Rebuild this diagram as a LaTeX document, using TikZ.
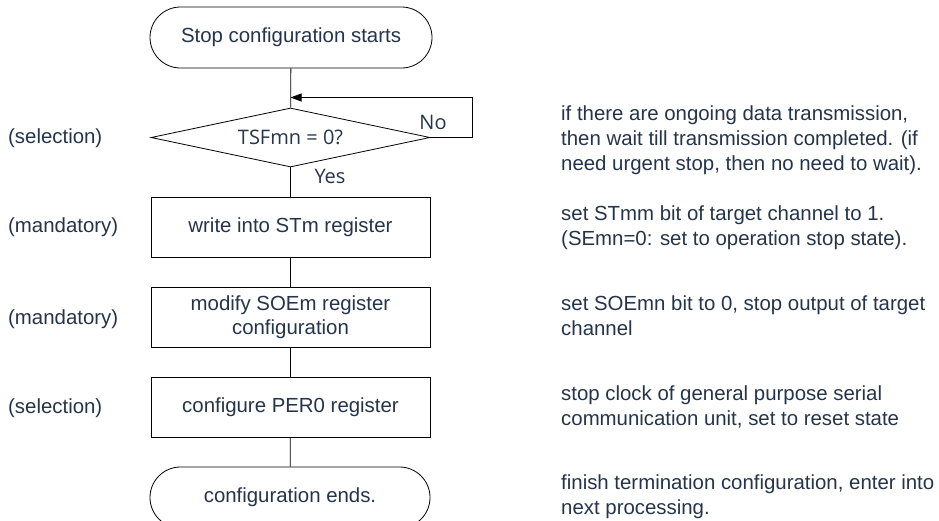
\documentclass[tikz,border=0pt]{standalone}
\usepackage{fontspec}
\setmainfont{Liberation Sans}
\newfontfamily\dfont{Open Sans}
\usetikzlibrary{shapes.geometric,shapes.misc,arrows.meta}
\definecolor{txt}{RGB}{36,52,74}
\begin{document}
\begin{tikzpicture}[x=1pt,y=-1pt,
  every node/.style={text=txt,font=\fontsize{20.4}{24}\selectfont},
  term/.style={draw=black,line width=0.8pt,rounded rectangle,minimum width=282pt,minimum height=61pt,inner sep=0pt},
  proc/.style={draw=black,line width=0.8pt,rectangle,minimum width=279pt,minimum height=60pt,inner sep=0pt,align=center},
  dec/.style={draw=black,line width=0.8pt,diamond,aspect=4.73,minimum width=279pt,minimum height=59pt,inner sep=0pt},
  side/.style={anchor=west,inner sep=0pt},
  note/.style={anchor=base west,inner sep=0pt,align=left,font=\fontsize{20.4}{25}\selectfont},
  link/.style={line width=0.8pt,draw=black}]
\useasboundingbox (0,0) rectangle (939,520);
\node[term] (start) at (291,37.5) {Stop configuration starts};
\node[dec] (tsf) at (290.5,137.5) {\dfont\fontsize{20}{24}\selectfont TSFmn = 0?};
\node[proc] (b1) at (290.5,227) {write into STm register};
\node[proc] (b2) at (290.5,317) {modify SOEm register\\configuration};
\node[proc] (b3) at (290.5,407) {configure PER0 register};
\node[term,minimum width=280pt] (fin) at (290,497.5) {configuration ends.};
\coordinate (merge) at (290.5,97.5);
\draw[link] (start) -- (tsf);
\draw[link,-{Triangle[length=11pt,width=8pt]}] (tsf.east) -- (472,137.5) |- (merge);
\draw[link] (tsf) -- (b1);
\draw[link] (b1) -- (b2);
\draw[link] (b2) -- (b3);
\draw[link] (b3) -- (fin);
\node (no) at (433,122) {\dfont\fontsize{20}{24}\selectfont No};
\node (yes) at (330,176) {\dfont\fontsize{20}{24}\selectfont Yes};
\node[side] (s1) at (8,138) {(selection)};
\node[side] (s2) at (8,227) {(mandatory)};
\node[side] (s3) at (8,319) {(mandatory)};
\node[side] (s4) at (8,408) {(selection)};
\node[note] (n1) at (561,170) {if there are ongoing data transmission,\\then wait till transmission completed. (if\\need urgent stop, then no need to wait).};
\node[note] (n2) at (561,245) {set STmm bit of target channel to 1.\\(SEmn=0: set to operation stop state).};
\node[note] (n3) at (561,335) {set SOEmn bit to 0, stop output of target\\channel};
\node[note] (n4) at (561,425) {stop clock of general purpose serial\\communication unit, set to reset state};
\node[note] (n5) at (561,514) {finish termination configuration, enter into\\next processing.};
\end{tikzpicture}
\end{document}
